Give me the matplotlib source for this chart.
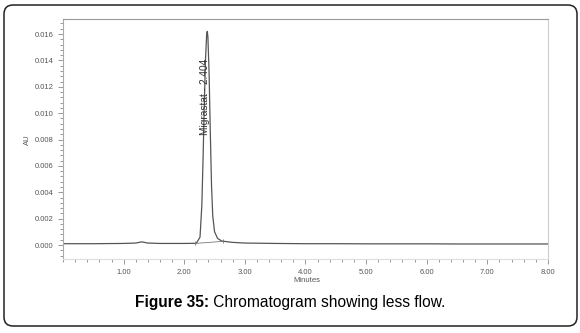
import matplotlib
matplotlib.use("Agg")
import matplotlib.pyplot as plt
from matplotlib.patches import FancyBboxPatch
from matplotlib.transforms import IdentityTransform
from matplotlib.ticker import MultipleLocator, FixedLocator

plt.rcParams['font.family'] = ['Liberation Sans', 'DejaVu Sans']

# chromatogram trace (minutes, AU)
minutes = [0.00, 0.50, 1.00, 1.20, 1.30, 1.40, 1.60, 2.00, 2.20, 2.26, 2.29,
           2.31, 2.33, 2.35, 2.37, 2.38, 2.39, 2.41, 2.43, 2.45, 2.47, 2.50,
           2.55, 2.62, 2.80, 3.00, 3.50, 4.00, 4.50, 5.00, 5.50, 6.00, 6.50,
           7.00, 7.50, 8.00]
au = [0.00010, 0.00010, 0.00012, 0.00015, 0.00024, 0.00015, 0.00012, 0.00012,
      0.00013, 0.00060, 0.00300, 0.00650, 0.01050, 0.01400, 0.01600, 0.01620,
      0.01580, 0.01300, 0.00850, 0.00450, 0.00220, 0.00100, 0.00050, 0.00030,
      0.00020, 0.00015, 0.00012, 0.00010, 0.00010, 0.00009, 0.00009, 0.00009,
      0.00008, 0.00008, 0.00008, 0.00008]

# integration baseline of the peak
base_t = [2.18, 2.64]
base_au = [0.00012, 0.00028]

peak_name = "Migrastat - 2.404"
peak_t = 2.34
peak_label_y = 0.0112

x_ticks = [1, 2, 3, 4, 5, 6, 7, 8]
y_ticks = [0.000, 0.002, 0.004, 0.006, 0.008, 0.010, 0.012, 0.014, 0.016]

fig = plt.figure(figsize=(5.8, 3.33), dpi=100)
ax = fig.add_axes([63 / 580, 1 - 259 / 333, 485 / 580, 240 / 333])

ax.plot(minutes, au, color="#555555", lw=0.9)
ax.plot(base_t, base_au, color="#777777", lw=0.6)
ax.plot(base_t, base_au, ls="none", marker="|", ms=3, mew=0.6, color="#777777")

ax.text(peak_t, peak_label_y, peak_name, rotation=90, ha="center", va="center",
        fontsize=7.3, color="#333333")

ax.set_xlim(0, 8)
ax.set_ylim(-0.00106, 0.01714)
ax.xaxis.set_major_locator(FixedLocator(x_ticks))
ax.xaxis.set_minor_locator(MultipleLocator(0.2))
ax.yaxis.set_major_locator(FixedLocator(y_ticks))
ax.yaxis.set_minor_locator(MultipleLocator(0.0004))
ax.set_xticklabels(["%.2f" % v for v in x_ticks])
ax.set_yticklabels(["%.3f" % v for v in y_ticks])

ax.tick_params(which="both", direction="out", colors="#888888", labelcolor="#555555",
               labelsize=5.5, width=0.6)
ax.tick_params(which="major", length=3.5)
ax.tick_params(which="minor", length=2)
ax.tick_params(axis="x", pad=4)

ax.spines["top"].set_color("#999999")
ax.spines["right"].set_color("#cccccc")
ax.spines["left"].set_color("#aaaaaa")
ax.spines["bottom"].set_color("#dddddd")
for s in ax.spines.values():
    s.set_linewidth(0.8)

fig.text(27 / 580, 1 - 140 / 333, "AU", rotation=90, ha="center", va="center",
         fontsize=5.5, color="#555555")
fig.text(307 / 580, 1 - 281 / 333, "Minutes", ha="center", va="center",
         fontsize=5.5, color="#555555")

# caption, bold part + regular part centred together
fig.canvas.draw()
r = fig.canvas.get_renderer()
t1 = fig.text(0, 0, "Figure 35:", fontsize=11.2, fontweight="bold", color="black")
t2 = fig.text(0, 0, " Chromatogram showing less flow.", fontsize=11.2, color="black")
w1 = t1.get_window_extent(r).width
w2 = t2.get_window_extent(r).width
x0 = 290 - (w1 + w2) / 2
ybase = 333 - 307
t1.set_transform(IdentityTransform())
t2.set_transform(IdentityTransform())
t1.set_position((x0, ybase))
t2.set_position((x0 + w1, ybase))

frame = FancyBboxPatch((4, 7), 573, 321, boxstyle="round,pad=0,rounding_size=9",
                       transform=IdentityTransform(), fill=False,
                       edgecolor="#222222", lw=1.1)
fig.add_artist(frame)

fig.savefig("out.png", dpi=100)
